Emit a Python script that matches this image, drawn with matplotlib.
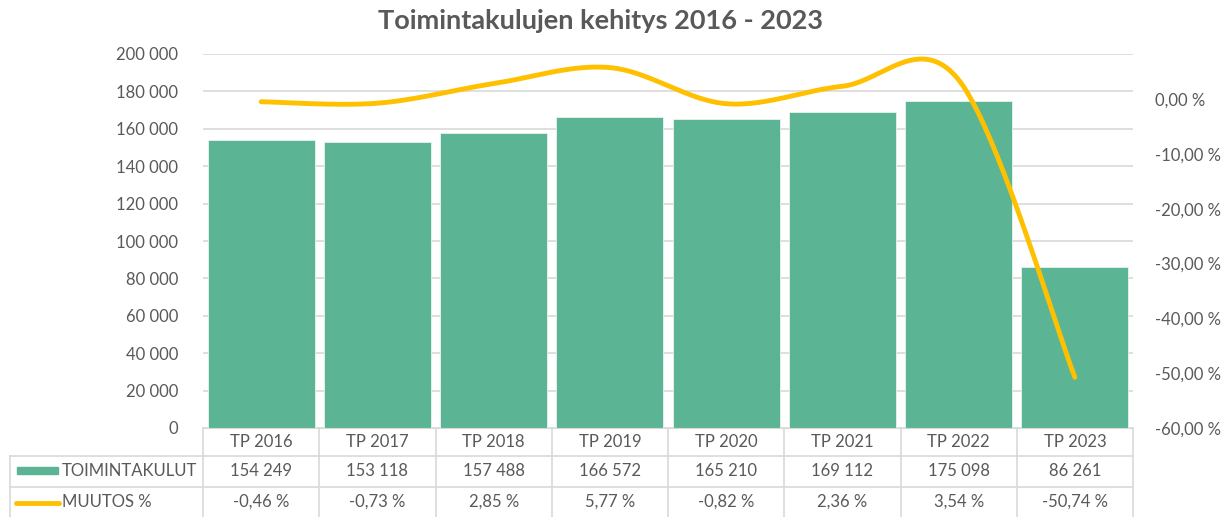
import matplotlib.pyplot as plt
import matplotlib.transforms as mtransforms
from matplotlib.patches import Rectangle
from matplotlib.lines import Line2D
import numpy as np

# data
categories = ['TP 2016', 'TP 2017', 'TP 2018', 'TP 2019', 'TP 2020', 'TP 2021', 'TP 2022', 'TP 2023']
kulut = [154249, 153118, 157488, 166572, 165210, 169112, 175098, 86261]
muutos = [-0.46, -0.73, 2.85, 5.77, -0.82, 2.36, 3.54, -50.74]
kulut_labels = ['154 249', '153 118', '157 488', '166 572', '165 210', '169 112', '175 098', '86 261']
muutos_labels = ['-0,46 %', '-0,73 %', '2,85 %', '5,77 %', '-0,82 %', '2,36 %', '3,54 %', '-50,74 %']
left_ticks = [0, 20000, 40000, 60000, 80000, 100000, 120000, 140000, 160000, 180000, 200000]
right_ticks = [0, -10, -20, -30, -40, -50, -60]

bar_color = '#5BB595'
line_color = '#FFC000'
text_color = '#595959'
grid_color = '#D9D9D9'
plt.rcParams['font.family'] = ['Lato', 'DejaVu Sans']

W, H = 1229, 517


def fx(px):
    return px / W


def fy(py):
    return 1 - py / H


def catmull_rom(xs, ys, n=40):
    # Excel-style smoothed line (uniform Catmull-Rom through the points)
    P = np.column_stack([xs, ys]).astype(float)
    P = np.vstack([P[0], P, P[-1]])
    out = []
    for i in range(1, len(P) - 2):
        p0, p1, p2, p3 = P[i - 1], P[i], P[i + 1], P[i + 2]
        c1 = p1 + (p2 - p0) / 6
        c2 = p2 - (p3 - p1) / 6
        t = np.linspace(0, 1, n)[:, None]
        seg = ((1 - t) ** 3) * p1 + 3 * ((1 - t) ** 2) * t * c1 + 3 * (1 - t) * t ** 2 * c2 + t ** 3 * p2
        out.append(seg if i == 1 else seg[1:])
    out = np.vstack(out)
    return out[:, 0], out[:, 1]


fig = plt.figure(figsize=(W / 100, H / 100), dpi=100)
ax = fig.add_axes([fx(203), fy(428), fx(1133) - fx(203), fy(54) - fy(428)])
x = np.arange(len(categories))

ax.bar(x, kulut, width=0.92, color=bar_color, edgecolor='#E8F4EF', linewidth=0.6, zorder=2)
ax.set_xlim(-0.5, len(categories) - 0.5)
ax.set_ylim(0, 200000)
ax.set_yticks(left_ticks)
ax.set_yticklabels([f'{v:,}'.replace(',', ' ') for v in left_ticks])
ax.set_xticks([])
ax.grid(axis='y', color=grid_color, linewidth=1.2, zorder=0)
for s in ['top', 'right', 'left']:
    ax.spines[s].set_visible(False)
ax.spines['bottom'].set_color(grid_color)
ax.tick_params(axis='y', length=0, pad=18, labelsize=12, labelcolor=text_color)

ax2 = ax.twinx()
sx, sy = catmull_rom(x, muutos)
ax2.plot(sx, sy, color=line_color, linewidth=3.5, solid_capstyle='round', zorder=3)
ax2.set_ylim(-60, 8.25)
ax2.set_yticks(right_ticks)
ax2.set_yticklabels([f'{v:.2f} %'.replace('.', ',') for v in right_ticks])
for s in ['top', 'right', 'left', 'bottom']:
    ax2.spines[s].set_visible(False)
ax2.tick_params(axis='y', length=0, pad=16, labelsize=12, labelcolor=text_color)

fig.suptitle('Toimintakulujen kehitys 2016 - 2023', x=0.489, y=fy(21), va='center',
             fontsize=19.5, fontweight='bold', color=text_color)

# data table under the chart
trans = mtransforms.blended_transform_factory(ax.transData, fig.transFigure)
tbl_lw = 1.2
for b in np.arange(-0.5, len(categories)):
    fig.add_artist(Line2D([b, b], [fy(428), fy(517)], transform=trans, color=grid_color, lw=tbl_lw))
for yy in [456, 487]:
    fig.add_artist(Line2D([fx(10), fx(1133)], [fy(yy), fy(yy)], transform=fig.transFigure,
                          color=grid_color, lw=tbl_lw))
fig.add_artist(Line2D([fx(10), fx(10)], [fy(456), fy(517)], transform=fig.transFigure,
                      color=grid_color, lw=tbl_lw))

for i in range(len(categories)):
    fig.text(i, fy(442), categories[i], transform=trans, ha='center', va='center', fontsize=12, color=text_color)
    fig.text(i, fy(471), kulut_labels[i], transform=trans, ha='center', va='center', fontsize=12, color=text_color)
    fig.text(i, fy(502), muutos_labels[i], transform=trans, ha='center', va='center', fontsize=12, color=text_color)

fig.add_artist(Rectangle((fx(17), fy(474)), fx(58) - fx(17), fy(467) - fy(474),
                         transform=fig.transFigure, color=bar_color))
fig.add_artist(Line2D([fx(16), fx(59)], [fy(503), fy(503)], transform=fig.transFigure,
                      color=line_color, lw=3.5, solid_capstyle='round'))
fig.text(fx(62), fy(471), 'TOIMINTAKULUT', ha='left', va='center', fontsize=12, color=text_color)
fig.text(fx(62), fy(502), 'MUUTOS %', ha='left', va='center', fontsize=12, color=text_color)

fig.savefig('out.png', dpi=100)
